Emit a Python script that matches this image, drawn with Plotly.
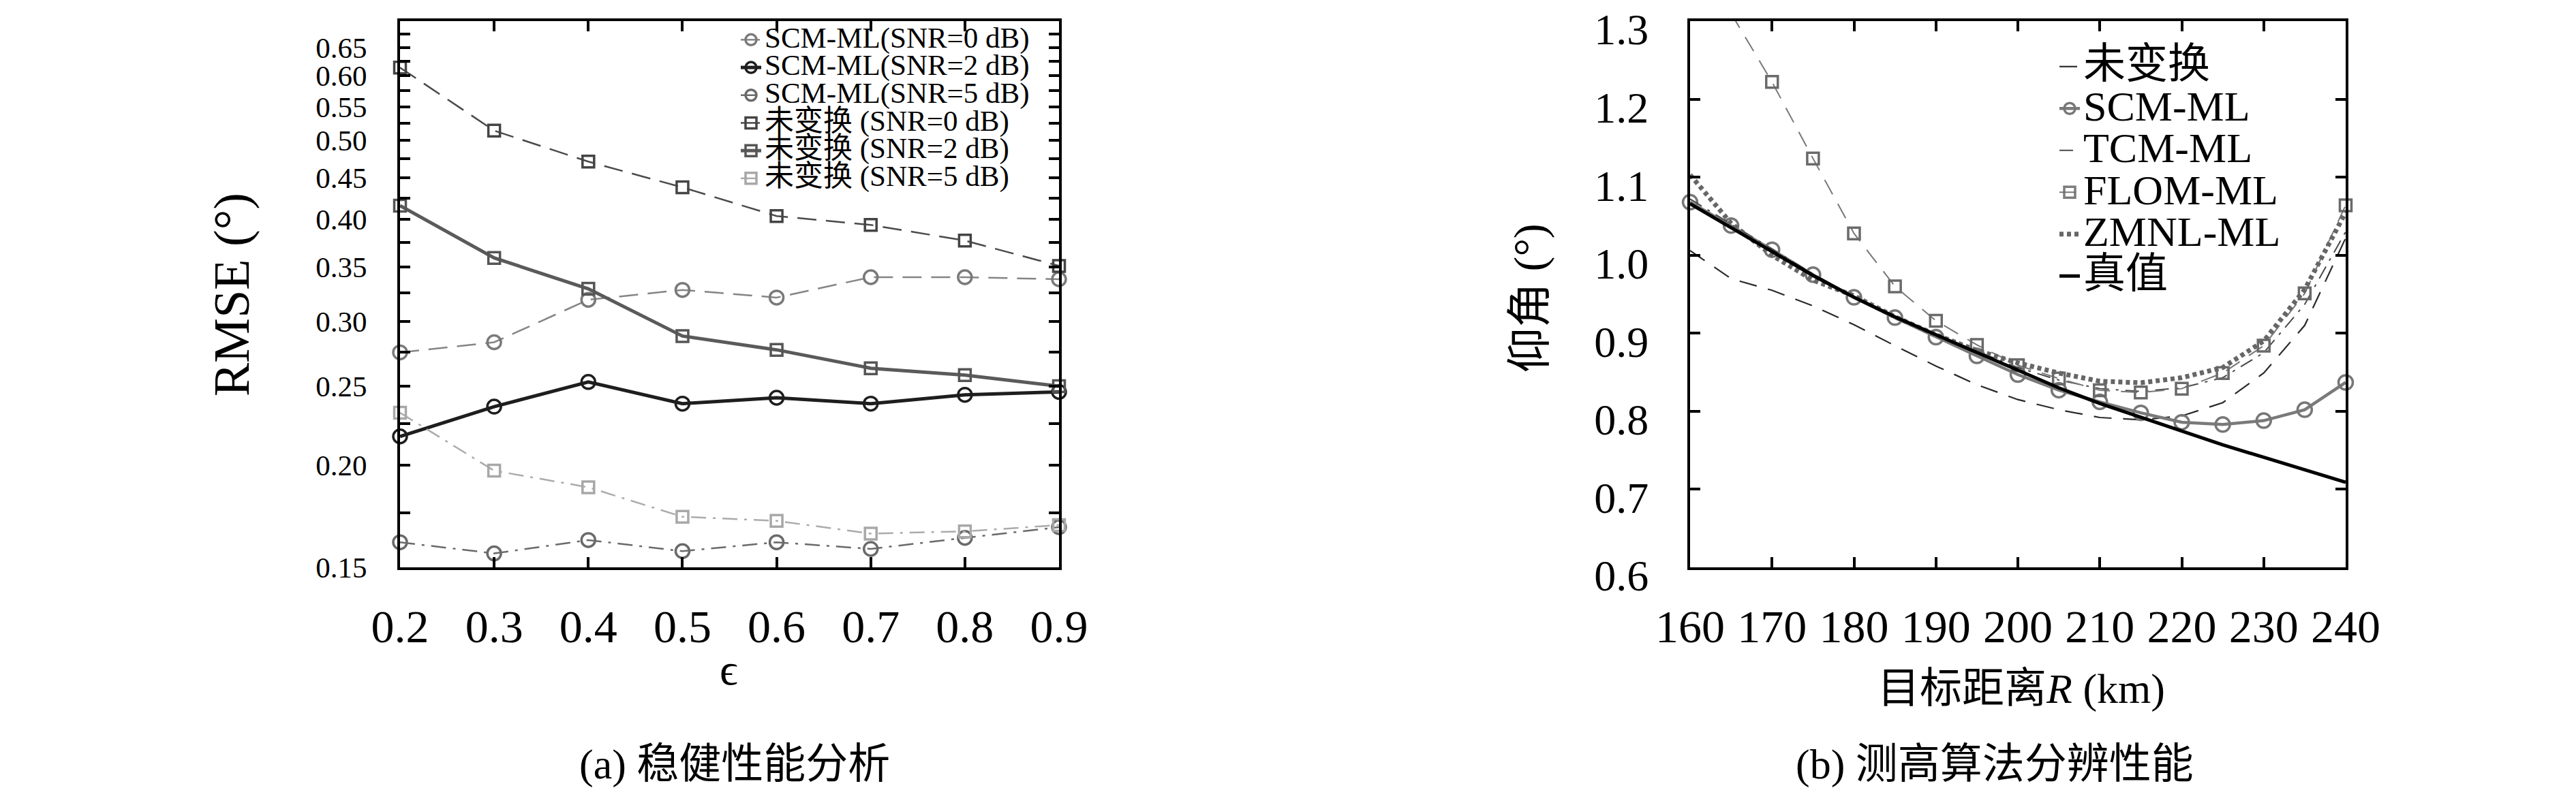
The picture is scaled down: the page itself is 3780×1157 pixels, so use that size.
import math
import plotly.graph_objects as go

# ---------------- data: (a) robustness ----------------
eps = [0.2, 0.3, 0.4, 0.5, 0.6, 0.7, 0.8, 0.9]
scm_0db = [0.275, 0.283, 0.319, 0.328, 0.321, 0.340, 0.340, 0.338]
scm_2db = [0.217, 0.236, 0.253, 0.238, 0.242, 0.238, 0.244, 0.246]
scm_5db = [0.161, 0.156, 0.162, 0.157, 0.161, 0.158, 0.163, 0.168]
raw_0db = [0.614, 0.514, 0.471, 0.438, 0.404, 0.394, 0.377, 0.351]
raw_2db = [0.416, 0.359, 0.329, 0.288, 0.277, 0.263, 0.258, 0.250]
raw_5db = [0.232, 0.197, 0.188, 0.173, 0.171, 0.165, 0.166, 0.169]
left_yticks = [0.15, 0.20, 0.25, 0.30, 0.35, 0.40, 0.45, 0.50, 0.55, 0.60, 0.65]
left_yminor = [0.175, 0.225, 0.275, 0.325, 0.375, 0.425, 0.475, 0.525, 0.575, 0.625, 0.675]

# ---------------- data: (b) height-finding resolution ----------------
R = [160, 165, 170, 175, 180, 185, 190, 195, 200, 205, 210, 215, 220, 225, 230, 235, 240]
raw_el = [1.006, 0.970, 0.955, 0.935, 0.911, 0.884, 0.858, 0.834, 0.815, 0.802, 0.792, 0.789, 0.794, 0.811, 0.849, 0.910, 1.022]
scm_el = [1.068, 1.038, 1.007, 0.975, 0.946, 0.920, 0.895, 0.871, 0.847, 0.827, 0.812, 0.798, 0.786, 0.783, 0.788, 0.802, 0.837]
tcm_el = [1.072, 1.040, 1.008, 0.976, 0.947, 0.922, 0.899, 0.877, 0.856, 0.840, 0.829, 0.8255, 0.830, 0.843, 0.875, 0.937, 1.030]
flom_el = [1.400, 1.310, 1.222, 1.124, 1.028, 0.960, 0.916, 0.885, 0.859, 0.842, 0.827, 0.824, 0.829, 0.849, 0.884, 0.951, 1.064]
zmnl_el = [1.103, 1.041, 1.000, 0.968, 0.948, 0.921, 0.898, 0.878, 0.862, 0.849, 0.8385, 0.8365, 0.843, 0.856, 0.890, 0.956, 1.055]
true_el = [1.066, 1.035, 1.004, 0.974, 0.946, 0.921, 0.898, 0.875, 0.852, 0.830, 0.810, 0.792, 0.775, 0.757, 0.741, 0.725, 0.709]
right_xticks = [160, 170, 180, 190, 200, 210, 220, 230, 240]
right_yticks = [0.6, 0.7, 0.8, 0.9, 1.0, 1.1, 1.2, 1.3]

W, H = 3780, 1157
SERIF = "Liberation Serif, DejaVu Serif, Noto Sans CJK SC"


def px(x):
    return x / W


def py(y):
    return 1 - y / H


def lg(text, size):
    return f'<span style="font-size:{size}px">{text}</span>'


fig = go.Figure()

# ---- left panel traces ----
LS = 43
left_series = [
    (scm_0db, lg("SCM-ML(SNR=0 dB)", LS), "#858585", 2.5, "28px,14px", "circle-open", 20, "#7a7a7a"),
    (scm_2db, lg("SCM-ML(SNR=2 dB)", LS), "#1e1e1e", 5, "solid", "circle-open", 20, "#1e1e1e"),
    (scm_5db, lg("SCM-ML(SNR=5 dB)", LS), "#6a6a6a", 2.5, "22px,10px,4px,10px", "circle-open", 20, "#6a6a6a"),
    (raw_0db, lg("未变换 (SNR=0 dB)", LS), "#4a4a4a", 2.5, "28px,14px", "square-open", 17, "#444444"),
    (raw_2db, lg("未变换 (SNR=2 dB)", LS), "#5a5a5a", 5, "solid", "square-open", 17, "#555555"),
    (raw_5db, lg("未变换 (SNR=5 dB)", LS), "#ababab", 2.5, "22px,10px,4px,10px", "square-open", 17, "#a8a8a8"),
]
for vals, name, col, w, dash, sym, msz, mcol in left_series:
    fig.add_trace(go.Scatter(
        x=eps, y=vals, name=name, mode="lines+markers",
        line=dict(color=col, width=w, dash=dash),
        marker=dict(symbol=sym, size=msz, color=mcol, line=dict(width=3.5, color=mcol)),
        xaxis="x", yaxis="y", legend="legend", cliponaxis=False,
    ))

# ---- right panel traces ----
fig.add_trace(go.Scatter(
    x=R, y=raw_el, name=lg("未变换", 62), mode="lines",
    line=dict(color="#2a2a2a", width=2.2, dash="26px,17px"),
    xaxis="x2", yaxis="y2", legend="legend2"))
fig.add_trace(go.Scatter(
    x=R, y=scm_el, name=lg("SCM-ML", 62), mode="lines+markers",
    line=dict(color="#7a7a7a", width=4.5),
    marker=dict(symbol="circle-open", size=21, color="#777777", line=dict(width=3.5, color="#777777")),
    xaxis="x2", yaxis="y2", legend="legend2", cliponaxis=False))
fig.add_trace(go.Scatter(
    x=R, y=tcm_el, name=lg("TCM-ML", 62), mode="lines",
    line=dict(color="#4a4a4a", width=2, dash="20px,10px,4px,10px"),
    xaxis="x2", yaxis="y2", legend="legend2"))
fig.add_trace(go.Scatter(
    x=R, y=flom_el, name=lg("FLOM-ML", 62), mode="lines+markers",
    line=dict(color="#777777", width=2, dash="24px,16px"),
    marker=dict(symbol="square-open", size=17, color="#6a6a6a",
                opacity=[0 if v > right_yticks[-1] else 1 for v in flom_el],
                line=dict(width=3.5, color="#6a6a6a")),
    xaxis="x2", yaxis="y2", legend="legend2", cliponaxis=False))
fig.add_trace(go.Scatter(
    x=R, y=zmnl_el, name=lg("ZMNL-ML", 62), mode="lines",
    line=dict(color="#666666", width=7, dash="6px,5px"),
    xaxis="x2", yaxis="y2", legend="legend2"))
fig.add_trace(go.Scatter(
    x=R, y=true_el, name=lg("真值", 62), mode="lines",
    line=dict(color="#000000", width=5),
    xaxis="x2", yaxis="y2", legend="legend2"))

tickfont = dict(family=SERIF, size=68, color="black")
ytickfont2 = dict(family=SERIF, size=64, color="black")
small_tickfont = dict(family=SERIF, size=43, color="black")
common = dict(showline=True, linecolor="black", linewidth=4, mirror="ticks",
              ticks="inside", ticklen=15, tickwidth=3.5, tickcolor="black",
              showgrid=False, zeroline=False, ticklabeloverflow="allow",
              automargin=False)

fig.update_layout(
    width=W, height=H,
    margin=dict(l=0, r=0, t=0, b=0, pad=0, autoexpand=False),
    paper_bgcolor="white", plot_bgcolor="white",
    xaxis=dict(domain=[px(579), px(1546)], range=[0.2, 0.9], tickmode="array",
               tickvals=eps, ticktext=[f"{v:.1f}" for v in eps], tickfont=tickfont,
               anchor="y", ticklabelstandoff=24, **common),
    yaxis=dict(domain=[py(825), py(23)], type="log",
               range=[math.log10(0.15), math.log10(0.70)], tickmode="array",
               tickvals=left_yticks, ticktext=[f"{v:.2f}" for v in left_yticks],
               tickfont=small_tickfont,
               minor=dict(tickmode="array", tickvals=left_yminor, ticks="inside",
                          ticklen=15, tickwidth=3.5, tickcolor="black"),
               anchor="x", ticklabelstandoff=36, **common),
    xaxis2=dict(domain=[px(2472), px(3434)], range=[160, 240], tickmode="array",
                tickvals=right_xticks, ticktext=[str(v) for v in right_xticks],
                tickfont=tickfont, anchor="y2", ticklabelstandoff=24, **common),
    yaxis2=dict(domain=[py(825), py(23)], range=[0.6, 1.3], tickmode="array",
                tickvals=right_yticks, ticktext=[f"{v:.1f}" for v in right_yticks],
                tickfont=ytickfont2, anchor="x2", ticklabelstandoff=44,
                ticklabelshift=12, **common),
    legend=dict(x=px(1074), y=py(25), xanchor="left", yanchor="top",
                bgcolor="rgba(0,0,0,0)", borderwidth=0, tracegroupgap=0,
                font=dict(family=SERIF, size=29, color="black"), traceorder="normal"),
    legend2=dict(x=px(3009), y=py(54), xanchor="left", yanchor="top",
                 bgcolor="rgba(0,0,0,0)", borderwidth=0, tracegroupgap=0,
                 font=dict(family=SERIF, size=45, color="black"), traceorder="normal"),
    showlegend=True,
)

ann = [
    dict(text="RMSE (°)", x=px(332), y=py(425), textangle=-90, size=74),
    dict(text="ϵ", x=px(1061), y=py(975), textangle=0, size=66),
    dict(text="(a) 稳健性能分析", x=px(1070), y=py(1114), textangle=0, size=62),
    dict(text="仰角 (°)", x=px(2237), y=py(430), textangle=-90, size=66),
    dict(text="目标距离<i>R</i> (km)", x=px(2958), y=py(1003), textangle=0, size=62),
    dict(text="(b) 测高算法分辨性能", x=px(2919), y=py(1114), textangle=0, size=62),
]
for a in ann:
    fig.add_annotation(text=a["text"], x=a["x"], y=a["y"], xref="paper", yref="paper",
                       xanchor="center", yanchor="middle", showarrow=False,
                       textangle=a["textangle"],
                       font=dict(family=SERIF, size=a["size"], color="black"))

fig.write_html("out.html")
